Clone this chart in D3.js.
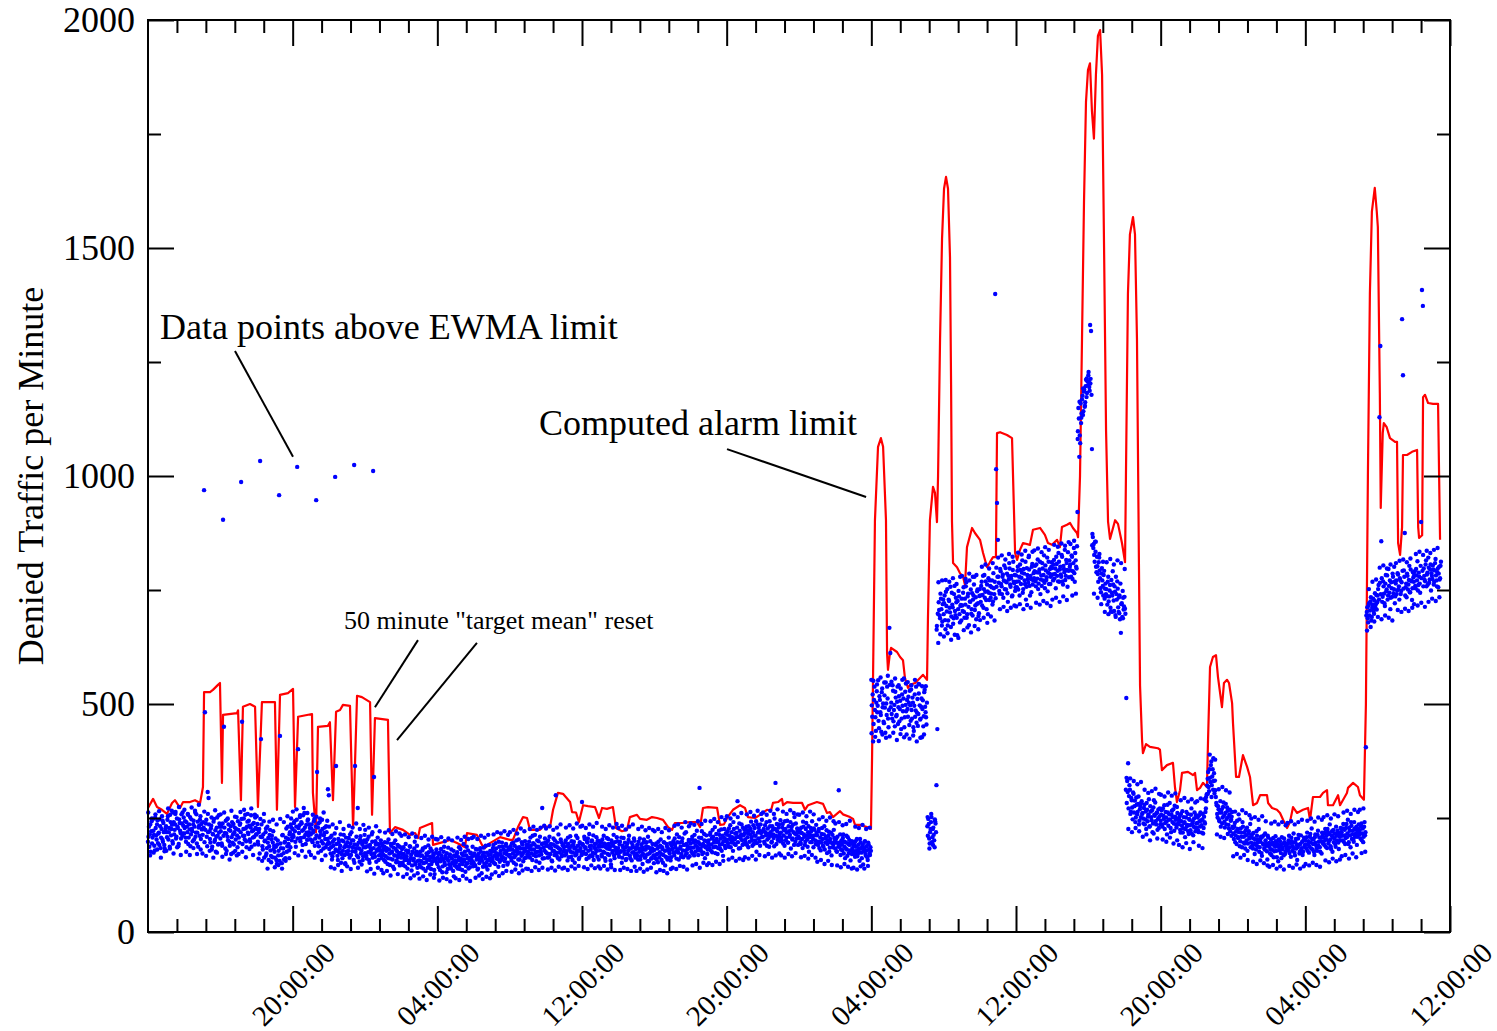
<!DOCTYPE html>
<html>
<head>
<meta charset="utf-8">
<script src="https://cdn.jsdelivr.net/npm/d3@7"></script>
<style>
  body { margin: 0; background: #fff; }
  svg { display: block; }
  text { font-family: 'Liberation Serif', 'Times New Roman', serif; fill: #000; }
</style>
</head>
<body>
<div id="chart"></div>
<script>
// x labels (every 8 hours from the 12:00 start)
const xTickLabels = ['20:00:00', '04:00:00', '12:00:00', '20:00:00', '04:00:00', '12:00:00', '20:00:00', '04:00:00', '12:00:00'];
const yTickValues = [0, 500, 1000, 1500, 2000];
const yMinorValues = [250, 750, 1250, 1750];

// denied traffic samples, one every 3 minutes, one row per hour
const sampleStepMinutes = 3;
const deniedTraffic = [
  198, 231, 214, 176, 243, 207, 222, 189, 251, 212, 236, 195, 218, 247, 184, 226, 203, 239, 191, 221,
  232, 208, 254, 219, 187, 241, 226, 199, 262, 214, 236, 205, 249, 228, 193, 239, 217, 258, 211, 233,
  216, 243, 198, 231, 259, 207, 225, 188, 247, 221, 236, 203, 266, 218, 194, 242, 229, 211, 254, 237,
  226, 241, 969, 482, 238, 209, 307, 294, 221, 196, 233, 187, 214, 248, 202, 176, 229, 211, 193, 238,
  205, 231, 189, 904, 450, 217, 244, 178, 209, 236, 198, 222, 171, 241, 214, 192, 229, 203, 252, 186,
  224, 196, 238, 987, 461, 211, 249, 203, 227, 186, 242, 215, 233, 198, 256, 221, 207, 239, 192, 228,
  214, 237, 192, 226, 1033, 423, 208, 181, 243, 199, 219, 172, 231, 206, 188, 224, 167, 211, 196, 182,
  176, 205, 158, 192, 168, 958, 430, 184, 151, 213, 173, 196, 162, 227, 188, 204, 179, 219, 236, 201,
  226, 209, 243, 198, 231, 1020, 401, 217, 252, 206, 238, 191, 224, 261, 213, 235, 202, 247, 219, 228,
  214, 236, 197, 222, 248, 205, 947, 351, 229, 188, 241, 213, 199, 226, 183, 217, 204, 232, 192, 313,
  300, 194, 172, 211, 166, 189, 203, 998, 364, 178, 158, 196, 183, 214, 171, 162, 199, 186, 149, 207,
  188, 171, 206, 163, 194, 219, 177, 201, 1024, 364, 183, 168, 272, 196, 154, 210, 179, 192, 166, 201,
  173, 196, 161, 188, 209, 152, 184, 171, 198, 1011, 340, 165, 192, 178, 207, 158, 186, 169, 194, 176,
  181, 158, 197, 166, 184, 149, 203, 172, 161, 189, 176, 143, 195, 168, 182, 157, 191, 170, 152, 186,
  163, 182, 147, 171, 158, 193, 166, 139, 178, 155, 187, 169, 146, 174, 161, 198, 152, 176, 141, 168,
  157, 176, 142, 168, 183, 151, 163, 134, 172, 159, 190, 147, 165, 138, 178, 155, 169, 127, 161, 181,
  149, 171, 158, 136, 182, 163, 144, 176, 152, 167, 131, 159, 185, 148, 170, 139, 162, 153, 178, 146,
  166, 143, 175, 157, 186, 138, 161, 172, 149, 193, 155, 132, 168, 151, 179, 163, 142, 174, 158, 187,
  153, 172, 145, 166, 181, 139, 163, 157, 176, 129, 168, 185, 150, 161, 143, 174, 158, 191, 147, 170,
  176, 158, 191, 167, 149, 183, 172, 160, 198, 154, 178, 166, 187, 145, 173, 161, 193, 170, 152, 181,
  169, 188, 157, 181, 196, 164, 177, 148, 185, 172, 203, 159, 183, 167, 192, 155, 176, 199, 163, 186,
  191, 168, 184, 207, 172, 158, 195, 181, 213, 166, 187, 176, 199, 152, 183, 170, 272, 194, 162, 205,
  175, 196, 163, 188, 209, 171, 184, 155, 192, 178, 201, 300, 167, 186, 214, 159, 181, 197, 169, 190,
  186, 168, 201, 177, 157, 193, 182, 210, 165, 189, 174, 198, 152, 185, 171, 206, 179, 163, 194, 176,
  285, 191, 172, 204, 183, 160, 196, 178, 215, 168, 189, 201, 174, 158, 193, 182, 208, 165, 187, 199,
  179, 197, 166, 188, 211, 174, 156, 192, 183, 204, 169, 187, 148, 195, 178, 213, 162, 185, 173, 199,
  184, 165, 198, 177, 152, 189, 206, 171, 185, 160, 194, 178, 211, 167, 183, 157, 191, 175, 200, 163,
  172, 191, 159, 183, 205, 166, 178, 149, 196, 181, 164, 188, 170, 209, 155, 184, 176, 161, 193, 168,
  180, 162, 194, 171, 153, 187, 175, 203, 158, 182, 169, 196, 146, 179, 188, 163, 207, 172, 157, 190,
  183, 199, 168, 192, 176, 214, 181, 159, 196, 187, 171, 205, 164, 191, 178, 219, 173, 188, 202, 166,
  194, 176, 209, 185, 168, 201, 190, 222, 179, 197, 316, 183, 206, 171, 193, 215, 162, 188, 199, 181,
  201, 184, 218, 192, 175, 209, 196, 230, 187, 204, 171, 198, 213, 182, 225, 193, 167, 207, 189, 216,
  199, 221, 187, 212, 234, 196, 208, 178, 226, 203, 191, 217, 287, 209, 238, 184, 214, 201, 229, 193,
  216, 197, 231, 208, 186, 223, 214, 242, 201, 219, 193, 228, 211, 176, 236, 205, 222, 189, 217, 246,
  209, 226, 194, 219, 241, 203, 215, 187, 232, 211, 198, 224, 206, 249, 327, 193, 221, 208, 236, 199,
  218, 201, 237, 212, 189, 226, 207, 244, 196, 221, 213, 183, 231, 205, 219, 252, 198, 214, 227, 191,
  206, 225, 193, 217, 184, 231, 209, 198, 239, 203, 219, 176, 214, 228, 197, 211, 186, 224, 201, 235,
  212, 191, 226, 198, 179, 215, 204, 187, 232, 196, 209, 173, 201, 220, 185, 197, 168, 213, 192, 206,
  183, 204, 176, 195, 311, 188, 169, 201, 179, 214, 187, 162, 196, 181, 208, 173, 191, 157, 199, 184,
  178, 193, 165, 187, 204, 171, 182, 156, 196, 174, 188, 148, 183, 199, 167, 179, 158, 192, 172, 186,
  553, 472, 418, 509, 487, 441, 528, 496, 463, 517, 482, 439, 534, 501, 458, 492, 547, 476, 512, 449,
  667, 612, 503, 468, 529, 487, 451, 514, 476, 538, 493, 462, 507, 445, 521, 484, 556, 471, 498, 433,
  489, 516, 454, 497, 532, 468, 503, 441, 521, 486, 459, 511, 478, 543, 466, 494, 427, 508, 473, 531,
  482, 455, 232, 248, 205, 219, 241, 197, 226, 213, 186, 238, 322, 445, 634, 706, 688, 731, 672, 719,
  697, 738, 664, 715, 752, 683, 726, 701, 669, 744, 712, 688, 759, 695, 723, 651, 708, 736, 679, 717,
  731, 704, 756, 689, 718, 767, 697, 742, 673, 725, 751, 708, 694, 738, 779, 716, 686, 747, 721, 699,
  752, 724, 768, 739, 711, 783, 746, 728, 762, 697, 744, 771, 733, 756, 718, 787, 741, 1399, 1015, 941,
  860, 766, 742, 791, 758, 779, 733, 804, 769, 751, 786, 724, 773, 797, 757, 781, 738, 812, 765, 748,
  782, 756, 801, 769, 738, 794, 777, 815, 752, 786, 763, 729, 798, 774, 822, 759, 781, 745, 807, 771,
  776, 803, 758, 789, 817, 764, 795, 741, 782, 809, 771, 826, 754, 793, 778, 747, 812, 786, 763, 801,
  798, 771, 816, 785, 754, 807, 792, 831, 768, 801, 779, 823, 762, 796, 838, 781, 809, 757, 792, 815,
  806, 779, 823, 791, 842, 768, 815, 797, 921, 1149, 1042, 1072, 1116, 1168, 1134, 1185, 1152, 1197, 1173, 1208,
  1221, 1195, 1331, 1318, 1059, 866, 851, 812, 834, 789, 802, 768, 821, 776, 745, 798, 759, 783, 731, 764,
  752, 718, 779, 736, 761, 703, 744, 791, 727, 758, 695, 741, 769, 712, 734, 686, 656, 721, 748, 707,
  735, 698, 513, 331, 370, 298, 312, 264, 289, 247, 303, 276, 241, 295, 258, 281, 236, 269, 252, 287,
  261, 238, 279, 247, 226, 268, 253, 291, 232, 264, 245, 219, 273, 257, 284, 236, 262, 248, 228, 271,
  244, 267, 231, 255, 278, 239, 251, 214, 262, 246, 283, 228, 257, 241, 269, 222, 253, 236, 274, 248,
  236, 254, 218, 243, 265, 227, 239, 208, 251, 232, 259, 215, 246, 223, 271, 238, 212, 249, 229, 256,
  228, 251, 219, 243, 262, 234, 247, 216, 253, 238, 271, 302, 336, 318, 357, 329, 374, 341, 312, 348,
  332, 296, 278, 251, 269, 243, 287, 262, 238, 274, 255, 229, 281, 248, 266, 235, 258, 221, 246, 263,
  228, 204, 239, 212, 193, 226, 208, 247, 199, 218, 186, 231, 209, 194, 223, 201, 178, 216, 205, 237,
  196, 214, 183, 205, 171, 192, 221, 188, 203, 176, 198, 209, 167, 194, 212, 181, 201, 189, 159, 207,
  187, 172, 203, 181, 196, 164, 191, 210, 178, 193, 155, 186, 199, 173, 208, 182, 168, 197, 176, 189,
  194, 179, 211, 186, 165, 199, 188, 216, 174, 197, 183, 158, 205, 191, 176, 212, 184, 169, 201, 187,
  201, 183, 218, 192, 174, 209, 196, 227, 181, 203, 169, 214, 190, 178, 222, 198, 186, 207, 172, 211,
  208, 191, 226, 203, 184, 219, 199, 236, 188, 212, 176, 224, 205, 193, 231, 201, 217, 182, 209, 228,
  219, 201, 237, 212, 193, 228, 208, 246, 197, 222, 186, 233, 214, 203, 241, 209, 224, 191, 218, 236,
  223, 205, 238, 216, 197, 231, 212, 405, 702, 688, 716, 694, 725, 683, 711, 731, 698, 743, 719, 707,
  738, 761, 1129, 1285, 857, 724, 769, 742, 715, 783, 751, 729, 796, 744, 708, 767, 735, 779, 752, 721,
  764, 741, 787, 752, 729, 771, 748, 1344, 1221, 793, 875, 756, 734, 781, 762, 803, 745, 771, 728, 789,
  768, 791, 754, 782, 813, 761, 779, 744, 899, 1408, 1373, 797, 772, 806, 758, 788, 821, 766, 795, 749,
  781, 804, 762, 793, 818, 771, 789, 756, 801, 776, 812
];

// the in-between samples, 1.5 minutes after each of the above
const deniedTrafficMid = [
  209, 187, 236, 221, 194, 248, 213, 179, 228, 203, 245, 216, 191, 232, 207, 254, 198, 219, 183, 227,
  219, 246, 203, 228, 257, 212, 235, 194, 241, 224, 263, 209, 231, 188, 247, 222, 205, 238, 216, 251,
  228, 207, 241, 219, 193, 236, 252, 214, 226, 199, 244, 231, 209, 258, 218, 187, 233, 246, 204, 225,
  213, 229, 197, 224, 246, 188, 219, 236, 204, 227, 181, 215, 242, 198, 223, 209, 251, 192, 218, 231,
  221, 194, 238, 211, 229, 183, 216, 247, 201, 224, 189, 232, 208, 196, 237, 219, 178, 226, 212, 243,
  207, 235, 219, 248, 193, 226, 211, 257, 199, 231, 218, 244, 203, 229, 187, 236, 223, 209, 251, 214,
  226, 198, 219, 172, 209, 236, 188, 214, 163, 201, 227, 184, 196, 158, 213, 179, 203, 164, 221, 189,
  163, 187, 149, 201, 178, 156, 194, 169, 212, 183, 159, 198, 207, 176, 231, 193, 214, 186, 229, 208,
  213, 239, 221, 187, 246, 205, 228, 234, 199, 241, 222, 256, 208, 229, 193, 218, 244, 211, 236, 203,
  227, 201, 218, 243, 189, 231, 212, 196, 238, 207, 221, 178, 246, 194, 212, 229, 186, 219, 204, 197,
  182, 207, 186, 159, 198, 174, 216, 181, 193, 167, 204, 175, 189, 152, 201, 178, 213, 169, 191, 176,
  197, 178, 187, 214, 169, 201, 186, 158, 192, 176, 209, 191, 164, 183, 203, 172, 197, 158, 186, 213,
  186, 167, 203, 175, 158, 191, 179, 214, 163, 184, 172, 199, 154, 181, 193, 168, 178, 201, 162, 189,
  169, 187, 154, 178, 196, 162, 181, 147, 193, 174, 159, 185, 168, 201, 153, 177, 164, 188, 146, 174,
  171, 152, 186, 163, 144, 179, 158, 174, 151, 188, 162, 135, 176, 157, 183, 148, 169, 189, 156, 172,
  148, 167, 155, 179, 139, 162, 186, 153, 168, 141, 175, 158, 183, 149, 163, 171, 136, 157, 174, 152,
  163, 142, 174, 155, 168, 131, 159, 187, 147, 162, 173, 138, 156, 166, 143, 181, 151, 134, 168, 157,
  152, 171, 139, 164, 147, 182, 155, 136, 168, 159, 176, 145, 187, 162, 139, 158, 173, 151, 166, 144,
  168, 147, 182, 159, 137, 171, 151, 184, 163, 156, 143, 174, 166, 189, 152, 137, 169, 160, 178, 155,
  163, 184, 152, 176, 195, 161, 168, 143, 187, 171, 158, 196, 164, 181, 155, 189, 177, 148, 185, 166,
  181, 163, 194, 172, 152, 189, 168, 201, 178, 159, 186, 174, 146, 197, 171, 183, 162, 178, 191, 170,
  176, 198, 163, 189, 181, 211, 169, 192, 174, 155, 201, 187, 168, 209, 176, 193, 161, 185, 179, 196,
  189, 172, 201, 164, 185, 193, 157, 178, 205, 169, 188, 174, 196, 162, 183, 174, 203, 166, 191, 177,
  178, 196, 171, 188, 207, 164, 185, 176, 199, 158, 192, 183, 168, 211, 177, 189, 160, 197, 184, 169,
  193, 176, 209, 186, 171, 198, 205, 163, 188, 181, 199, 166, 212, 185, 172, 194, 178, 201, 159, 191,
  188, 169, 203, 176, 194, 162, 186, 206, 171, 193, 182, 157, 201, 174, 189, 168, 197, 179, 208, 176,
  171, 192, 176, 207, 163, 185, 178, 196, 158, 188, 171, 202, 183, 161, 196, 174, 186, 205, 168, 182,
  185, 167, 198, 176, 159, 192, 186, 171, 203, 163, 181, 197, 155, 186, 172, 199, 162, 184, 178, 151,
  168, 191, 159, 183, 198, 164, 189, 171, 186, 152, 197, 178, 165, 193, 159, 182, 176, 195, 164, 181,
  192, 174, 205, 185, 161, 197, 174, 208, 183, 165, 198, 179, 191, 216, 169, 193, 182, 163, 199, 184,
  185, 203, 172, 196, 213, 176, 198, 185, 169, 207, 192, 178, 221, 189, 174, 201, 186, 212, 171, 196,
  191, 213, 179, 205, 224, 186, 201, 173, 215, 197, 184, 222, 191, 205, 178, 211, 199, 226, 184, 203,
  213, 194, 227, 204, 186, 219, 201, 241, 193, 216, 208, 229, 197, 183, 222, 206, 236, 191, 212, 224,
  203, 224, 191, 217, 232, 198, 226, 207, 189, 234, 212, 201, 243, 195, 218, 229, 199, 236, 208, 221,
  221, 198, 234, 212, 189, 227, 206, 243, 219, 196, 232, 214, 188, 226, 211, 237, 202, 229, 214, 245,
  207, 229, 194, 223, 243, 201, 218, 196, 232, 209, 241, 224, 203, 236, 191, 216, 238, 205, 222, 209,
  218, 197, 229, 204, 242, 214, 191, 226, 211, 187, 232, 208, 197, 221, 243, 204, 227, 212, 193, 218,
  198, 221, 184, 207, 196, 228, 189, 214, 181, 205, 223, 193, 211, 176, 204, 218, 195, 186, 224, 199,
  196, 177, 209, 187, 196, 214, 181, 193, 206, 172, 198, 184, 211, 167, 193, 202, 179, 194, 171, 198,
  189, 171, 199, 178, 166, 191, 175, 204, 183, 162, 192, 177, 198, 171, 188, 164, 196, 181, 169, 178,
  497, 521, 456, 538, 471, 503, 482, 552, 447, 509, 476, 526, 493, 461, 519, 437, 501, 538, 468, 487,
  542, 493, 478, 541, 462, 498, 527, 473, 505, 456, 517, 489, 534, 468, 496, 512, 449, 527, 484, 509,
  472, 503, 529, 463, 487, 514, 449, 496, 472, 538, 481, 452, 523, 497, 468, 512, 489, 451, 526, 494,
  471, 503, 211, 237, 194, 226, 252, 208, 229, 201, 243, 219, 671, 698, 723, 694, 742, 708, 681, 729,
  721, 684, 746, 703, 672, 729, 711, 757, 692, 718, 676, 741, 704, 733, 689, 726, 748, 697, 715, 683,
  716, 744, 702, 731, 758, 689, 736, 713, 771, 724, 698, 743, 729, 762, 706, 734, 719, 751, 693, 737,
  738, 759, 716, 781, 752, 733, 769, 708, 747, 776, 728, 759, 742, 771, 725, 754, 768, 732, 757, 779,
  779, 748, 796, 763, 741, 784, 771, 752, 798, 767, 743, 781, 809, 762, 775, 736, 794, 768, 783, 756,
  768, 792, 751, 779, 806, 763, 788, 744, 796, 771, 812, 757, 783, 766, 795, 738, 774, 801, 762, 787,
  791, 769, 806, 775, 752, 788, 812, 773, 759, 797, 783, 766, 804, 772, 821, 788, 763, 796, 779, 811,
  784, 806, 775, 797, 823, 781, 769, 812, 795, 784, 827, 769, 803, 789, 772, 816, 794, 833, 778, 801,
  793, 826, 774, 809, 787, 831, 801, 846, 1098, 1126, 1089, 1159, 1137, 1176, 1142, 1189, 1162, 1211, 1182, 1199,
  1206, 1187, 1213, 1178, 873, 842, 827, 856, 801, 823, 785, 811, 793, 754, 786, 771, 738, 792, 753, 741,
  737, 768, 725, 749, 711, 772, 738, 762, 704, 746, 779, 729, 753, 702, 738, 764, 719, 691, 733, 714,
  709, 312, 283, 307, 271, 322, 259, 294, 273, 306, 262, 288, 251, 279, 263, 297, 244, 275, 283, 259,
  249, 272, 236, 264, 283, 243, 258, 231, 276, 252, 267, 238, 289, 255, 243, 261, 224, 269, 253, 236,
  257, 236, 271, 248, 226, 263, 242, 279, 233, 258, 247, 219, 266, 252, 238, 277, 246, 229, 261, 239,
  247, 224, 259, 233, 218, 252, 241, 226, 263, 235, 221, 248, 234, 257, 216, 243, 231, 262, 221, 238,
  239, 222, 256, 231, 244, 218, 259, 228, 241, 263, 287, 321, 351, 309, 338, 366, 322, 357, 331, 304,
  311, 283, 259, 276, 246, 262, 231, 269, 251, 284, 242, 261, 236, 273, 252, 227, 268, 244, 253, 231,
  216, 231, 197, 221, 244, 206, 219, 188, 227, 209, 241, 196, 218, 183, 212, 229, 194, 221, 208, 186,
  207, 189, 217, 194, 203, 181, 211, 197, 226, 186, 204, 173, 209, 192, 184, 216, 193, 177, 211, 195,
  195, 181, 169, 192, 206, 177, 187, 199, 164, 188, 203, 179, 191, 162, 186, 194, 205, 171, 189, 183,
  186, 201, 173, 195, 207, 178, 196, 183, 168, 204, 191, 186, 213, 172, 193, 181, 198, 176, 207, 191,
  192, 208, 178, 199, 187, 215, 183, 204, 193, 176, 208, 196, 184, 213, 189, 207, 176, 199, 218, 194,
  199, 217, 187, 211, 226, 194, 215, 203, 182, 221, 208, 197, 216, 187, 211, 222, 196, 214, 201, 219,
  211, 227, 198, 224, 206, 237, 216, 193, 229, 212, 241, 204, 222, 198, 227, 215, 231, 209, 226, 213,
  216, 232, 201, 227, 209, 241, 219, 694, 712, 679, 721, 705, 734, 691, 718, 704, 727, 711, 739, 723,
  752, 729, 766, 741, 776, 735, 758, 721, 764, 747, 782, 738, 759, 771, 733, 754, 786, 743, 768, 736,
  771, 749, 784, 758, 776, 741, 767, 792, 753, 779, 738, 764, 786, 751, 772, 745, 795, 769, 754, 778,
  783, 759, 796, 771, 749, 788, 764, 803, 776, 792, 758, 781, 769, 815, 784, 762, 799, 773, 806, 787,
  774, 795, 768, 809, 782, 758, 797, 786, 773, 803
];

// wider-scattered samples, one every 6 minutes (offset 0.75 min), one row per hour
const extraStepMinutes = 6;
const deniedTrafficWide = [
  262, 168, 249, 174, 258, 181, 265, 163, 244, 177,
  178, 271, 183, 266, 172, 259, 186, 274, 169, 262,
  268, 176, 257, 169, 273, 184, 262, 171, 279, 181,
  172, 264, 167, 259, 178, 251, 163, 267, 174, 256,
  258, 165, 262, 171, 249, 159, 266, 174, 253, 168,
  171, 263, 176, 268, 164, 259, 182, 271, 169, 257,
  254, 161, 248, 156, 259, 167, 139, 242, 153, 246,
  142, 236, 147, 248, 139, 241, 156, 254, 162, 249,
  264, 173, 269, 168, 256, 178, 272, 165, 261, 176,
  169, 257, 163, 253, 174, 249, 158, 262, 168, 244,
  231, 142, 236, 139, 228, 147, 241, 134, 226, 151,
  144, 233, 138, 229, 152, 238, 141, 226, 148, 235,
  224, 133, 229, 138, 219, 128, 232, 141, 221, 136,
  129, 218, 134, 223, 124, 215, 138, 221, 127, 216,
  211, 121, 214, 127, 208, 118, 216, 124, 209, 129,
  117, 206, 122, 211, 114, 203, 126, 209, 119, 204,
  203, 113, 208, 119, 199, 116, 205, 111, 201, 122,
  118, 207, 114, 202, 123, 209, 117, 204, 112, 206,
  209, 119, 204, 124, 211, 116, 207, 121, 213, 118,
  126, 214, 131, 219, 123, 216, 129, 221, 134, 213,
  219, 132, 224, 137, 216, 129, 227, 135, 221, 139,
  138, 226, 134, 231, 142, 224, 136, 229, 141, 233,
  227, 137, 232, 141, 224, 135, 229, 143, 236, 139,
  141, 229, 136, 234, 144, 227, 139, 238, 145, 231,
  233, 142, 228, 138, 236, 146, 231, 140, 239, 144,
  139, 231, 145, 226, 137, 234, 142, 229, 136, 237,
  228, 136, 233, 141, 225, 138, 231, 134, 236, 143,
  134, 226, 139, 231, 132, 223, 137, 228, 141, 224,
  221, 131, 226, 136, 219, 134, 228, 129, 223, 138,
  141, 233, 138, 236, 145, 229, 143, 241, 137, 232,
  238, 146, 235, 149, 243, 141, 237, 152, 244, 147,
  151, 243, 147, 248, 154, 241, 149, 252, 156, 246,
  254, 159, 249, 163, 258, 156, 252, 161, 261, 158,
  164, 258, 161, 263, 167, 255, 159, 266, 169, 259,
  262, 166, 257, 171, 266, 163, 259, 168, 269, 172,
  168, 264, 163, 259, 171, 267, 166, 261, 173, 258,
  257, 164, 262, 167, 254, 161, 264, 169, 258, 163,
  154, 247, 158, 252, 149, 244, 156, 251, 147, 243,
  238, 146, 241, 142, 234, 149, 237, 143, 244, 139,
  141, 231, 137, 228, 144, 235, 139, 226, 145, 229,
  436, 551, 428, 543, 419, 558, 433, 547, 426, 562,
  429, 549, 437, 556, 421, 541, 434, 553, 427, 545,
  548, 424, 541, 431, 553, 418, 544, 426, 539, 433,
  539, 252, 183, 259, 191, 247, 663, 767, 653, 771,
  648, 772, 655, 768, 641, 776, 652, 763, 645, 779,
  781, 662, 774, 668, 786, 657, 779, 671, 783, 664,
  684, 801, 689, 806, 678, 797, 692, 809, 683, 799,
  821, 708, 826, 713, 817, 704, 829, 711, 823, 716,
  714, 832, 719, 828, 708, 836, 717, 825, 711, 834,
  837, 722, 841, 718, 833, 726, 844, 721, 838, 715,
  729, 849, 733, 845, 724, 852, 736, 847, 728, 855,
  851, 738, 858, 742, 1081, 1163, 1128, 1192, 1154, 1214,
  1228, 1203, 848, 742, 856, 733, 829, 719, 812, 702,
  811, 697, 818, 702, 806, 691, 815, 699, 809, 688,
  796, 338, 226, 337, 219, 331, 228, 324, 221, 329,
  209, 312, 214, 305, 201, 309, 216, 314, 205, 303,
  301, 203, 297, 198, 306, 207, 299, 194, 304, 201,
  191, 289, 186, 294, 195, 286, 182, 291, 197, 284,
  287, 189, 293, 184, 291, 296, 303, 389, 296, 381,
  378, 214, 313, 209, 318, 206, 311, 215, 306, 211,
  166, 264, 171, 258, 163, 267, 169, 261, 158, 256,
  249, 154, 252, 149, 246, 157, 254, 151, 243, 146,
  143, 238, 147, 242, 139, 236, 144, 241, 137, 234,
  239, 145, 243, 141, 236, 148, 241, 139, 246, 144,
  149, 244, 146, 249, 152, 242, 147, 251, 143, 246,
  252, 157, 256, 153, 249, 161, 258, 155, 254, 159,
  166, 262, 169, 266, 161, 259, 172, 268, 164, 263,
  268, 173, 271, 176, 661, 752, 669, 768, 681, 773,
  691, 799, 686, 804, 694, 797, 689, 806, 683, 801,
  809, 706, 814, 702, 817, 709, 811, 704, 819, 711,
  719, 829, 716, 834, 722, 827, 713, 836, 724, 831,
  731, 838, 726, 842, 734
];

// computed EWMA alarm limit: [hours since start, value]
const alarmLimit = [
  [0, 272], [0.28, 292], [0.5, 274], [0.77, 268], [1.05, 259], [1.33, 283], [1.49, 289], [1.77, 272], [1.94, 285],
  [2.32, 285], [2.6, 289], [2.88, 283], [3.04, 318], [3.1, 526], [3.43, 526], [3.59, 531], [3.87, 542], [3.98, 546],
  [4.09, 327], [4.15, 476], [4.92, 480], [4.98, 486], [5.14, 289], [5.25, 494], [5.64, 500], [5.92, 494], [6.08, 274],
  [6.3, 504], [7.02, 504], [7.13, 268], [7.3, 520], [7.74, 524], [8.02, 533], [8.13, 274], [8.3, 472], [9.07, 478],
  [9.12, 305], [9.29, 219], [9.4, 450], [9.95, 452], [10.06, 460], [10.23, 289], [10.4, 483], [10.62, 487], [10.78, 498],
  [11.17, 496], [11.34, 228], [11.56, 518], [11.83, 515], [12.28, 504], [12.39, 257], [12.55, 469], [13.27, 465],
  [13.38, 217], [13.66, 230], [14.1, 224], [14.49, 213], [14.77, 217], [14.93, 206], [15.04, 228], [15.71, 239],
  [15.76, 191], [16.31, 197], [16.7, 202], [17.09, 195], [17.53, 186], [17.64, 217], [18.19, 213], [18.47, 191],
  [18.64, 184], [18.91, 195], [19.47, 208], [20.02, 202], [20.18, 202], [20.46, 230], [20.74, 252], [20.96, 250],
  [21.12, 224], [21.68, 224], [21.84, 232], [22.23, 230], [22.4, 268], [22.67, 305], [22.95, 303], [23.34, 285],
  [23.45, 263], [23.67, 262], [23.83, 241], [24.06, 278], [24.33, 276], [24.72, 274], [24.94, 250], [25.11, 272],
  [25.38, 270], [25.71, 274], [25.88, 228], [26.21, 221], [26.49, 224], [26.65, 252], [27.04, 257], [27.21, 248],
  [27.59, 246], [27.87, 252], [28.15, 250], [28.48, 246], [28.76, 230], [28.98, 224], [29.14, 239], [29.53, 239],
  [29.97, 241], [30.36, 241], [30.53, 230], [30.69, 272], [30.97, 274], [31.47, 272], [31.63, 235], [31.85, 236],
  [32.02, 250], [32.35, 268], [32.74, 278], [33.01, 272], [33.18, 252], [33.57, 250], [33.84, 257], [34.23, 268],
  [34.45, 266], [34.56, 283], [34.84, 285], [35.06, 292], [35.12, 278], [35.34, 285], [35.67, 283], [36.17, 283],
  [36.33, 268], [36.5, 278], [36.99, 285], [37.33, 281], [37.55, 261], [37.71, 263], [37.88, 252], [38.27, 265],
  [38.43, 258], [38.82, 252], [38.99, 248], [39.1, 235], [39.37, 235], [39.76, 230], [39.98, 226], [40.04, 382],
  [40.2, 903], [40.37, 1064], [40.53, 1083], [40.65, 1064], [40.81, 903], [40.87, 612], [40.92, 575], [41.03, 612],
  [41.09, 623], [41.42, 614], [41.59, 603], [41.75, 596], [41.86, 557], [42.03, 535], [42.14, 542], [42.42, 546],
  [42.69, 557], [42.86, 564], [43.08, 553], [43.13, 684], [43.24, 903], [43.41, 976], [43.52, 963], [43.63, 899],
  [43.69, 1000], [43.8, 1300], [43.91, 1520], [44.02, 1630], [44.13, 1656], [44.24, 1630], [44.35, 1480], [44.41, 1200],
  [44.46, 900], [44.52, 809], [44.74, 800], [44.9, 787], [45.07, 779], [45.18, 761], [45.29, 844], [45.57, 886],
  [45.73, 875], [46.01, 860], [46.18, 831], [46.4, 800], [46.56, 811], [46.73, 822], [46.89, 822], [46.95, 1094],
  [47.12, 1096], [47.5, 1090], [47.78, 1083], [47.95, 831], [48.06, 816], [48.22, 838], [48.39, 853], [48.77, 849],
  [48.94, 882], [49.33, 886], [49.6, 871], [49.77, 853], [49.99, 849], [50.27, 860], [50.43, 844], [50.54, 888],
  [50.82, 893], [50.99, 897], [51.15, 886], [51.37, 875], [51.43, 866], [51.54, 1000], [51.65, 1300], [51.76, 1600],
  [51.87, 1820], [51.98, 1890], [52.09, 1905], [52.2, 1800], [52.31, 1740], [52.42, 1880], [52.53, 1965], [52.65, 1978],
  [52.76, 1880], [52.87, 1500], [52.98, 1100], [53.09, 900], [53.2, 862], [53.48, 903], [53.64, 895], [53.86, 853],
  [54.03, 811], [54.08, 1000], [54.19, 1400], [54.3, 1530], [54.47, 1568], [54.58, 1530], [54.69, 1300], [54.8, 800],
  [54.86, 540], [54.97, 421], [55.02, 392], [55.19, 412], [55.41, 406], [55.85, 403], [55.96, 400], [56.07, 355],
  [56.35, 366], [56.68, 371], [56.79, 318], [56.9, 285], [57.07, 311], [57.18, 349], [57.51, 351], [57.79, 344],
  [57.9, 349], [58.01, 311], [58.18, 316], [58.34, 327], [58.56, 318], [58.62, 421], [58.73, 581], [58.89, 603],
  [59.06, 607], [59.17, 559], [59.39, 493], [59.5, 546], [59.67, 553], [59.78, 546], [59.95, 502], [60, 458],
  [60.17, 340], [60.33, 340], [60.55, 388], [60.78, 362], [60.94, 340], [61.11, 278], [61.33, 283], [61.5, 300],
  [61.88, 300], [61.94, 283], [62.16, 272], [62.43, 268], [62.6, 261], [62.77, 246], [62.99, 228], [63.15, 241],
  [63.32, 274], [63.54, 261], [63.87, 268], [64.15, 272], [64.26, 246], [64.42, 296], [64.81, 296], [64.98, 305],
  [65.2, 311], [65.25, 278], [65.53, 278], [65.81, 300], [65.92, 278], [66.3, 305], [66.36, 316], [66.64, 327],
  [66.91, 318], [67.02, 300], [67.24, 290], [67.35, 500], [67.46, 1000], [67.57, 1400], [67.68, 1580], [67.84, 1632],
  [67.95, 1580], [68.01, 1546], [68.12, 1182], [68.17, 930], [68.28, 1094], [68.34, 1116], [68.5, 1107], [68.68, 1083],
  [68.96, 1075], [69.07, 1075], [69.13, 853], [69.24, 827], [69.35, 888], [69.4, 1046], [69.62, 1046], [69.9, 1053],
  [70.18, 1057], [70.24, 888], [70.29, 864], [70.46, 870], [70.51, 1173], [70.62, 1178], [70.79, 1160], [71.06, 1158],
  [71.34, 1158], [71.45, 860]
];

// annotations in data units (hours, value, font size)
const noteTexts = ['Data points above EWMA limit', 'Computed alarm limit', '50 minute "target mean" reset'];
const noteAnchors = [[0.66, 1300, 36], [21.62, 1090, 36], [10.84, 664, 26]];
const leaderLines = [[4.81, 1274, 8.02, 1042], [32.02, 1059, 39.71, 954], [14.93, 640, 12.55, 493], [18.19, 634, 13.77, 421]];

const width = 1497, height = 1031;
const margin = { top: 20, right: 47, bottom: 99, left: 148 };
const innerW = width - margin.left - margin.right;
const innerH = height - margin.top - margin.bottom;

const t0 = new Date(2000, 0, 1, 12, 0, 0);
const toDate = h => new Date(t0.getTime() + h * 3600000);

const x = d3.scaleTime().domain([t0, toDate(72)]).range([0, innerW]);
const y = d3.scaleLinear().domain([0, 2000]).range([innerH, 0]);

const svg = d3.select('#chart').append('svg')
  .attr('width', width).attr('height', height);
const g = svg.append('g').attr('transform', `translate(${margin.left},${margin.top})`);

// alarm limit line
const line = d3.line().x(d => x(toDate(d[0]))).y(d => y(d[1]));
g.append('path')
  .datum(alarmLimit)
  .attr('fill', 'none')
  .attr('stroke', '#ff0000')
  .attr('stroke-width', 2.2)
  .attr('stroke-linejoin', 'round')
  .attr('d', line);

// samples
const stepH = sampleStepMinutes / 60;
const extraH = extraStepMinutes / 60;
const samples = deniedTraffic.map((v, i) => ({ h: i * stepH, v }))
  .concat(deniedTrafficMid.map((v, i) => ({ h: (i + 0.5) * stepH, v })))
  .concat(deniedTrafficWide.map((v, i) => ({ h: (i + 0.125) * extraH, v })));
g.selectAll('circle.pt')
  .data(samples).enter().append('circle')
  .attr('class', 'pt')
  .attr('cx', d => x(toDate(d.h)))
  .attr('cy', d => y(d.v))
  .attr('r', 2.2)
  .attr('fill', '#0000ff');

// axes: ticks inside on all four sides
const majorX = d3.range(8, 73, 8).map(toDate);
const minorX = d3.range(96, 4320, 96).filter(m => m % 480 !== 0).map(m => toDate(m / 60));

function styleAxis(sel) {
  sel.select('.domain').remove();
  sel.selectAll('.tick line').attr('stroke', '#000').attr('stroke-width', 2);
}

g.append('g').attr('transform', `translate(0,${innerH})`)
  .call(d3.axisBottom(x).tickValues(majorX).tickSize(-26).tickSizeOuter(0).tickFormat((d, i) => xTickLabels[i]))
  .call(styleAxis)
  .call(s => s.selectAll('.tick text')
    .attr('y', 0).attr('dy', '0.35em')
    .attr('text-anchor', 'middle')
    .attr('transform', 'translate(0,52) rotate(-45)')
    .style('font-size', '29px')
    .style('font-family', "'Liberation Serif','Times New Roman',serif")
    .attr('fill', '#000'));
g.append('g').attr('transform', `translate(0,${innerH})`)
  .call(d3.axisBottom(x).tickValues(minorX).tickSize(-13).tickSizeOuter(0).tickFormat(''))
  .call(styleAxis);
g.append('g')
  .call(d3.axisTop(x).tickValues(majorX).tickSize(-26).tickSizeOuter(0).tickFormat(''))
  .call(styleAxis);
g.append('g')
  .call(d3.axisTop(x).tickValues(minorX).tickSize(-13).tickSizeOuter(0).tickFormat(''))
  .call(styleAxis);

g.append('g')
  .call(d3.axisLeft(y).tickValues(yTickValues).tickSize(-26).tickSizeOuter(0).tickPadding(13).tickFormat(d3.format('d')))
  .call(styleAxis)
  .call(s => s.selectAll('.tick text')
    .style('font-size', '36px')
    .style('font-family', "'Liberation Serif','Times New Roman',serif")
    .attr('fill', '#000'));
g.append('g')
  .call(d3.axisLeft(y).tickValues(yMinorValues).tickSize(-13).tickSizeOuter(0).tickFormat(''))
  .call(styleAxis);
g.append('g').attr('transform', `translate(${innerW},0)`)
  .call(d3.axisRight(y).tickValues(yTickValues).tickSize(-26).tickSizeOuter(0).tickFormat(''))
  .call(styleAxis);
g.append('g').attr('transform', `translate(${innerW},0)`)
  .call(d3.axisRight(y).tickValues(yMinorValues).tickSize(-13).tickSizeOuter(0).tickFormat(''))
  .call(styleAxis);

// frame
g.append('rect')
  .attr('x', 0).attr('y', 0)
  .attr('width', innerW).attr('height', innerH)
  .attr('fill', 'none')
  .attr('stroke', '#000')
  .attr('stroke-width', 2);

// y title
g.append('text')
  .attr('transform', `translate(-117,${innerH / 2}) rotate(-90)`)
  .attr('text-anchor', 'middle')
  .attr('dominant-baseline', 'central')
  .style('font-size', '36px')
  .text('Denied Traffic per Minute');

// annotations
g.selectAll('line.leader')
  .data(leaderLines).enter().append('line')
  .attr('class', 'leader')
  .attr('x1', d => x(toDate(d[0]))).attr('y1', d => y(d[1]))
  .attr('x2', d => x(toDate(d[2]))).attr('y2', d => y(d[3]))
  .attr('stroke', '#000')
  .attr('stroke-width', 2);

g.selectAll('text.note')
  .data(noteTexts).enter().append('text')
  .attr('class', 'note')
  .attr('x', (d, i) => x(toDate(noteAnchors[i][0])))
  .attr('y', (d, i) => y(noteAnchors[i][1]))
  .style('font-size', (d, i) => noteAnchors[i][2] + 'px')
  .text(d => d);
</script>
</body>
</html>
